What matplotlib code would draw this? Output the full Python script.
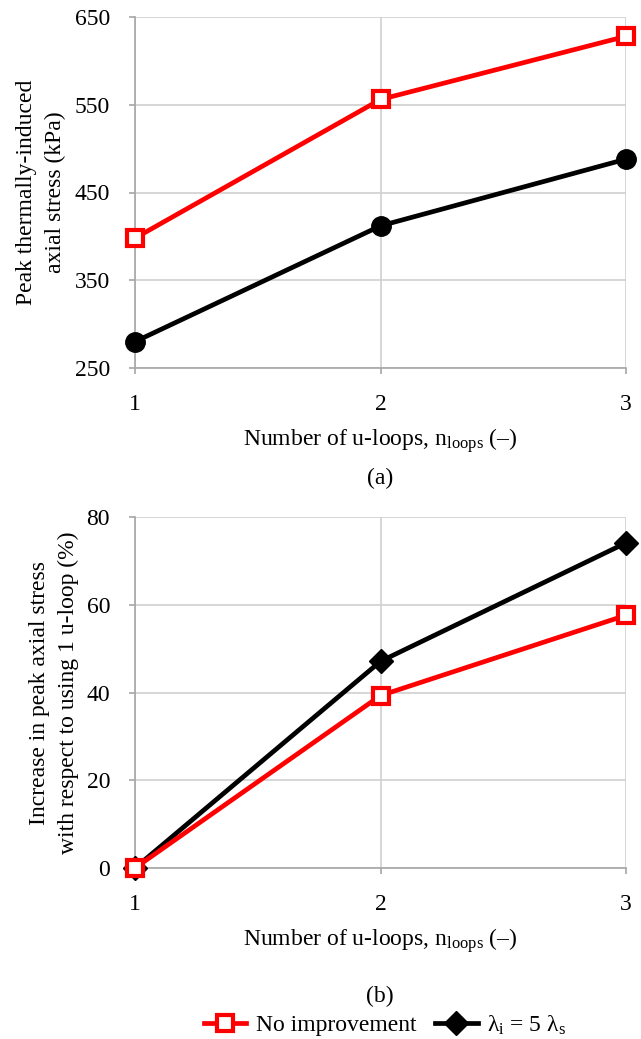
import matplotlib
matplotlib.use("Agg")
import matplotlib.pyplot as plt

plt.rcParams['font.family'] = ['Liberation Serif', 'DejaVu Serif']
plt.rcParams['mathtext.fontset'] = 'custom'
plt.rcParams['mathtext.rm'] = 'Liberation Serif'
plt.rcParams['mathtext.it'] = 'Liberation Serif:italic'

n_loops = [1, 2, 3]
stress_no_improvement = [398, 556, 628]
stress_lambda5 = [280, 412, 488]
incr_no_improvement = [0, 39.3, 57.6]
incr_lambda5 = [0, 47.1, 74.1]

label_red = 'No improvement'
label_black = r'λ$_\mathrm{i}$ = 5 λ$_\mathrm{s}$'
xlabel = r'Number of u-loops, n$_\mathrm{loops}$ (–)'

fig = plt.figure(figsize=(6.41, 10.39), dpi=100)
ax1 = fig.add_axes([135/641, 1-368/1039, (626-135)/641, (368-17)/1039])
ax2 = fig.add_axes([135/641, 1-868/1039, (626-135)/641, (868-517)/1039])

grid_c = '#d0d0d0'
fs = 17

def style(ax):
    for s in ['top', 'right']:
        ax.spines[s].set_visible(False)
    for s in ['left', 'bottom']:
        ax.spines[s].set_color('#a6a6a6')
        ax.spines[s].set_linewidth(1.2)
    ax.grid(True, color=grid_c, linewidth=1.2)
    ax.set_axisbelow(True)
    ax.set_xlim(1, 3)
    ax.set_xticks([1, 2, 3])
    ax.tick_params(axis='both', labelsize=fs, color='#a6a6a6', width=1.2, length=4)
    ax.tick_params(axis='x', pad=15)
    ax.tick_params(axis='y', pad=14)
    ax.set_xlabel(xlabel, fontsize=fs, labelpad=8)

lw = 3.4
ax1.plot(n_loops, stress_no_improvement, color='#ff0000', lw=lw, marker='s', ms=12,
         mfc='white', mec='#ff0000', mew=3, clip_on=False, zorder=4)
ax1.plot(n_loops, stress_lambda5, color='black', lw=lw, marker='o', ms=14,
         mfc='black', mec='black', clip_on=False, zorder=3)
style(ax1)
ax1.set_ylim(250, 650)
ax1.set_yticks([250, 350, 450, 550, 650])
ax1.set_ylabel('Peak thermally-induced\naxial stress (kPa)', fontsize=fs, labelpad=6,
               linespacing=1.5)

lr, = ax2.plot(n_loops, incr_no_improvement, color='#ff0000', lw=lw, marker='s', ms=12,
               mfc='white', mec='#ff0000', mew=3, clip_on=False, zorder=4, label=label_red)
lb, = ax2.plot(n_loops, incr_lambda5, color='black', lw=lw, marker='D', ms=12,
               mfc='black', mec='black', clip_on=False, zorder=3, label=label_black)
style(ax2)
ax2.set_ylim(0, 80)
ax2.set_yticks([0, 20, 40, 60, 80])
ax2.set_ylabel('Increase in peak axial stress\nwith respect to using 1 u-loop (%)', fontsize=fs,
               labelpad=5, linespacing=1.5)

fig.text(380/641, 1-478/1039, '(a)', ha='center', va='center', fontsize=fs)
fig.text(380/641, 1-996/1039, '(b)', ha='center', va='center', fontsize=fs)

fig.legend(handles=[lr, lb], loc='center', bbox_to_anchor=(385/641, 1-1025/1039),
           ncol=2, frameon=False, fontsize=fs, handlelength=1.8, columnspacing=0.8,
           handletextpad=0.4, borderpad=0.2)

fig.savefig('out.png', dpi=100)
